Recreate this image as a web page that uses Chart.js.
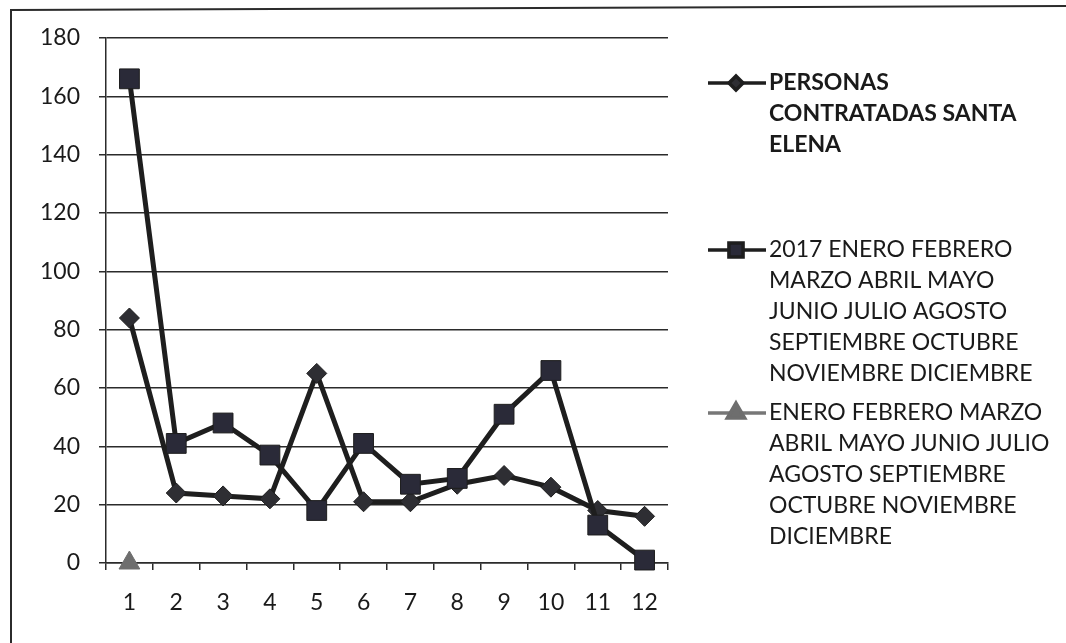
<!DOCTYPE html>
<html>
<head>
<meta charset="utf-8">
<script src="https://cdn.jsdelivr.net/npm/chart.js@4/dist/chart.umd.min.js"></script>
<style>
  html, body { margin: 0; padding: 0; background: #fff; }
  #wrap { width: 1066px; height: 643px; }
</style>
</head>
<body>
<div id="wrap"><canvas id="chart" width="1066" height="643"></canvas></div>
<script>
// Months 1..12 on the x axis
const categories = ['1', '2', '3', '4', '5', '6', '7', '8', '9', '10', '11', '12'];

// Series values
const contratadasSantaElena = [84, 24, 23, 22, 65, 21, 21, 27, 30, 26, 18, 16];
const contratadas2017 = [166, 41, 48, 37, 18, 41, 27, 29, 51, 66, 13, 1];
const mesesSinAnio = [0, null, null, null, null, null, null, null, null, null, null, null];

// Y axis ticks
const yTicks = [0, 20, 40, 60, 80, 100, 120, 140, 160, 180];

// Legend texts, one entry per line as wrapped in the original
const labelSantaElena = ['PERSONAS', 'CONTRATADAS SANTA', 'ELENA'];
const label2017 = ['2017 ENERO FEBRERO', 'MARZO ABRIL MAYO', 'JUNIO JULIO AGOSTO', 'SEPTIEMBRE OCTUBRE', 'NOVIEMBRE DICIEMBRE'];
const labelMeses = ['ENERO FEBRERO MARZO', 'ABRIL MAYO JUNIO JULIO', 'AGOSTO SEPTIEMBRE', 'OCTUBRE NOVIEMBRE', 'DICIEMBRE'];

const FONT = 'Lato';
const INK = '#1a1a1a';

// white background + the scanned frame (left and top border)
const framePlugin = {
  id: 'frame',
  beforeDraw(chart) {
    const ctx = chart.ctx;
    ctx.save();
    ctx.fillStyle = '#fff';
    ctx.fillRect(0, 0, chart.width, chart.height);
    ctx.strokeStyle = '#2b2b2b';
    ctx.lineWidth = 2;
    ctx.beginPath();
    ctx.moveTo(11, chart.height);
    ctx.lineTo(11, 10);
    ctx.lineTo(chart.width, 6);
    ctx.stroke();
    ctx.restore();
  }
};

// Excel-like legend on the right, with wrapped labels
const legendPlugin = {
  id: 'legendaDerecha',
  afterDraw(chart) {
    const ctx = chart.ctx;
    const entries = [
      { lines: labelSantaElena, top: 83, bold: true },
      { lines: label2017, top: 250, bold: false },
      { lines: labelMeses, top: 413, bold: false }
    ];
    const lineH = 31;
    const x0 = 708, x1 = 766, tx = 769;
    ctx.save();
    entries.forEach((e, i) => {
      const ds = chart.data.datasets[i];
      ctx.strokeStyle = ds.borderColor;
      ctx.lineWidth = 3.5;
      ctx.beginPath();
      ctx.moveTo(x0, e.top);
      ctx.lineTo(x1, e.top);
      ctx.stroke();
      ctx.fillStyle = ds.pointBackgroundColor;
      ctx.strokeStyle = ds.pointBorderColor;
      Chart.helpers.drawPoint(ctx, {
        pointStyle: ds.pointStyle,
        rotation: 0,
        radius: ds.legendRadius,
        borderWidth: 1
      }, (x0 + x1) / 2 - 1, e.top);

      ctx.fillStyle = INK;
      ctx.textAlign = 'left';
      ctx.textBaseline = 'middle';
      ctx.font = (e.bold ? 'bold ' : '') + '23px ' + FONT;
      e.lines.forEach((t, k) => ctx.fillText(t, tx, e.top + k * lineH));
    });
    ctx.restore();
  }
};

new Chart(document.getElementById('chart'), {
  type: 'line',
  data: {
    labels: categories,
    datasets: [
      {
        label: labelSantaElena.join(' '),
        data: contratadasSantaElena,
        borderColor: '#1e1e1e',
        borderWidth: 5,
        pointStyle: 'rectRot',
        pointRadius: 10,
        pointBackgroundColor: '#2e2e33',
        pointBorderColor: '#1e1e1e',
        pointBorderWidth: 1,
        legendRadius: 7,
        clip: false,
        order: 1
      },
      {
        label: label2017.join(' '),
        data: contratadas2017,
        borderColor: '#1e1e1e',
        borderWidth: 5,
        pointStyle: 'rect',
        pointRadius: 14,
        pointBackgroundColor: '#2a2a38',
        pointBorderColor: '#1e1e1e',
        pointBorderWidth: 1,
        legendRadius: 10,
        clip: false,
        order: 0
      },
      {
        label: labelMeses.join(' '),
        data: mesesSinAnio,
        borderColor: '#777777',
        borderWidth: 4,
        pointStyle: 'triangle',
        pointRadius: 12,
        pointBackgroundColor: '#6e6e6e',
        pointBorderColor: '#6e6e6e',
        pointBorderWidth: 1,
        legendRadius: 10,
        clip: false,
        order: 2
      }
    ]
  },
  options: {
    responsive: false,
    animation: false,
    devicePixelRatio: 1,
    layout: { padding: { left: 0, top: 38, right: 398, bottom: 0 } },
    plugins: {
      legend: { display: false },
      tooltip: { enabled: false }
    },
    scales: {
      x: {
        offset: true,
        grid: {
          offset: true,
          drawOnChartArea: false,
          drawTicks: true,
          tickLength: 7,
          color: '#2b2b2b',
          lineWidth: 1.5
        },
        border: { display: true, color: '#2b2b2b', width: 1.5 },
        ticks: {
          padding: 19,
          color: INK,
          font: { family: FONT, size: 23 }
        },
        afterFit(scale) { scale.height = 80; }
      },
      y: {
        min: 0,
        max: 180,
        afterBuildTicks(scale) { scale.ticks = yTicks.map(v => ({ value: v })); },
        grid: {
          color: '#2b2b2b',
          lineWidth: 1.5,
          drawTicks: true,
          tickLength: 7
        },
        border: { display: true, color: '#2b2b2b', width: 1.5 },
        ticks: {
          padding: 19,
          color: INK,
          font: { family: FONT, size: 23 }
        },
        afterFit(scale) { scale.width = 106; }
      }
    }
  },
  plugins: [framePlugin, legendPlugin]
});
</script>
</body>
</html>
